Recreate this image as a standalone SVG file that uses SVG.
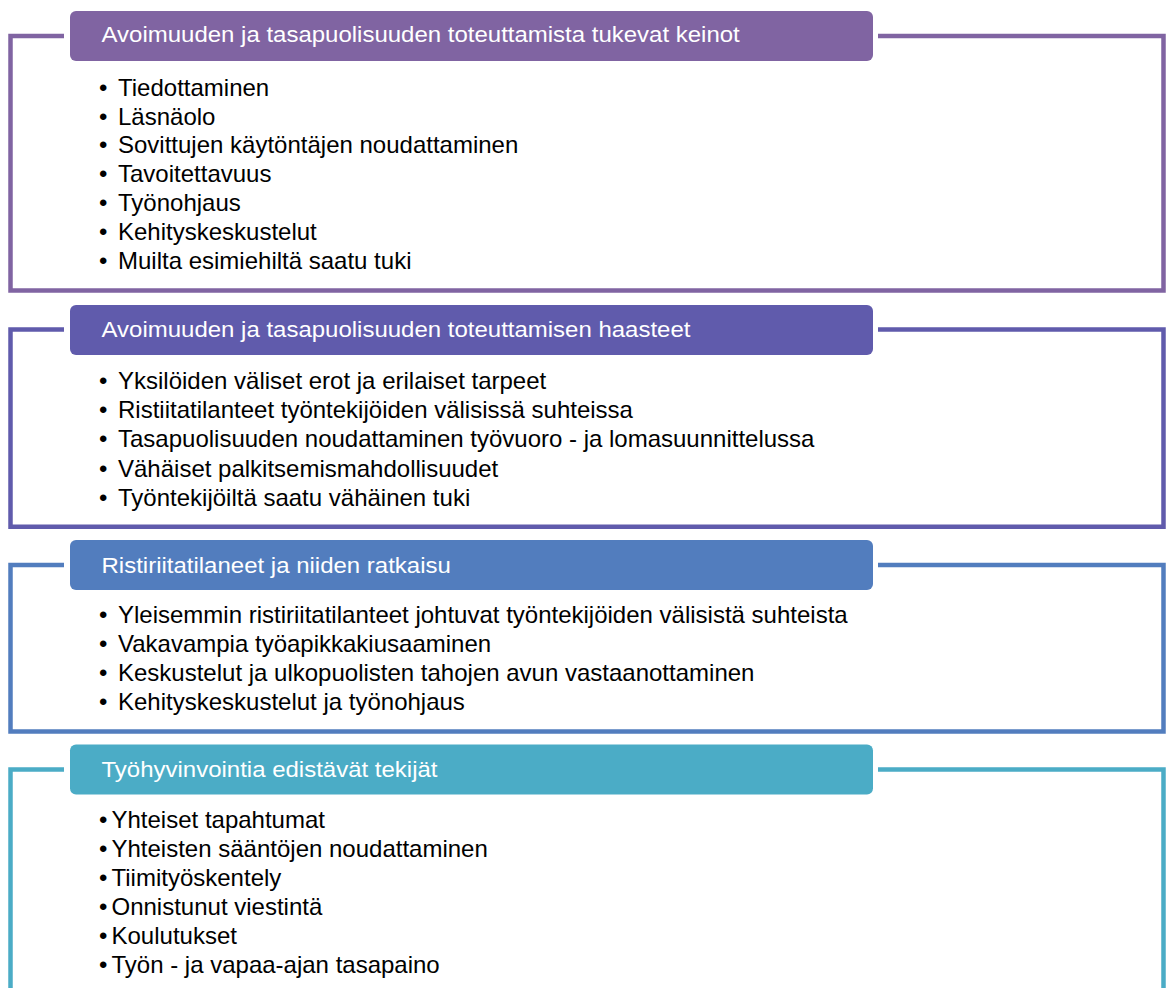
<svg xmlns="http://www.w3.org/2000/svg" width="1166" height="988" viewBox="0 0 1166 988">
<style>
.frame{fill:none;stroke-width:4.5;stroke-linejoin:miter}
.hdr{fill:#fff;font-family:"Liberation Sans",Arial,sans-serif;font-size:24px}
.itm{fill:#000;font-family:"Liberation Sans",Arial,sans-serif;font-size:24px}
</style>
<rect width="1166" height="988" fill="#fff"/>
<g id="connectors">
<path class="frame" stroke="#8064A2" d="M64,36 H10.5 V290.5 H1163.5 V36 H878"/>
<path class="frame" stroke="#605BAC" d="M64,329.5 H10.5 V526.8 H1163.5 V329.5 H878"/>
<path class="frame" stroke="#527DBE" d="M64,565 H10.5 V731.5 H1163.5 V565 H878"/>
<path class="frame" stroke="#4BACC6" d="M64,769.5 H10.5 V992 M878,769.5 H1163.5 V992"/>
</g>
<g id="node1">
<rect x="70" y="11" width="803" height="50" rx="6" fill="#8064A2"/>
<text class="hdr" transform="translate(101.5,42.3) scale(1,0.92)">Avoimuuden ja tasapuolisuuden toteuttamista tukevat keinot</text>
<g class="itm">
<text x="99" y="95.7">•</text><text x="118" y="95.7">Tiedottaminen</text>
<text x="99" y="124.5">•</text><text x="118" y="124.5">Läsnäolo</text>
<text x="99" y="153.3">•</text><text x="118" y="153.3">Sovittujen käytöntäjen noudattaminen</text>
<text x="99" y="182.1">•</text><text x="118" y="182.1">Tavoitettavuus</text>
<text x="99" y="210.9">•</text><text x="118" y="210.9">Työnohjaus</text>
<text x="99" y="239.7">•</text><text x="118" y="239.7">Kehityskeskustelut</text>
<text x="99" y="268.5">•</text><text x="118" y="268.5">Muilta esimiehiltä saatu tuki</text>
</g>
</g>
<g id="node2">
<rect x="70" y="305" width="803" height="50" rx="6" fill="#605BAC"/>
<text class="hdr" transform="translate(101.5,337.3) scale(1,0.92)">Avoimuuden ja tasapuolisuuden toteuttamisen haasteet</text>
<g class="itm">
<text x="99" y="389.3">•</text><text x="118" y="389.3">Yksilöiden väliset erot ja erilaiset tarpeet</text>
<text x="99" y="418.3">•</text><text x="118" y="418.3">Ristiitatilanteet työntekijöiden välisissä suhteissa</text>
<text x="99" y="447.3">•</text><text x="118" y="447.3">Tasapuolisuuden noudattaminen työvuoro - ja lomasuunnittelussa</text>
<text x="99" y="476.5">•</text><text x="118" y="476.5">Vähäiset palkitsemismahdollisuudet</text>
<text x="99" y="505.6">•</text><text x="118" y="505.6">Työntekijöiltä saatu vähäinen tuki</text>
</g>
</g>
<g id="node3">
<rect x="70" y="540" width="803" height="50" rx="6" fill="#527DBE"/>
<text class="hdr" transform="translate(101.5,572.8) scale(1,0.92)">Ristiriitatilaneet ja niiden ratkaisu</text>
<g class="itm">
<text x="99" y="623.3">•</text><text x="118" y="623.3">Yleisemmin ristiriitatilanteet johtuvat työntekijöiden välisistä suhteista</text>
<text x="99" y="652.3">•</text><text x="118" y="652.3">Vakavampia työapikkakiusaaminen</text>
<text x="99" y="681.4">•</text><text x="118" y="681.4">Keskustelut ja ulkopuolisten tahojen avun vastaanottaminen</text>
<text x="99" y="710.3">•</text><text x="118" y="710.3">Kehityskeskustelut ja työnohjaus</text>
</g>
</g>
<g id="node4">
<rect x="70" y="744.5" width="803" height="50" rx="6" fill="#4BACC6"/>
<text class="hdr" transform="translate(101.5,776.5) scale(1,0.92)">Työhyvinvointia edistävät tekijät</text>
<g class="itm">
<text x="99" y="828.3">•</text><text x="111.5" y="828.3">Yhteiset tapahtumat</text>
<text x="99" y="857.3">•</text><text x="111.5" y="857.3">Yhteisten sääntöjen noudattaminen</text>
<text x="99" y="886.3">•</text><text x="111.5" y="886.3">Tiimityöskentely</text>
<text x="99" y="915.3">•</text><text x="111.5" y="915.3">Onnistunut viestintä</text>
<text x="99" y="944.3">•</text><text x="111.5" y="944.3">Koulutukset</text>
<text x="99" y="973.3">•</text><text x="111.5" y="973.3">Työn - ja vapaa-ajan tasapaino</text>
</g>
</g>
</svg>
